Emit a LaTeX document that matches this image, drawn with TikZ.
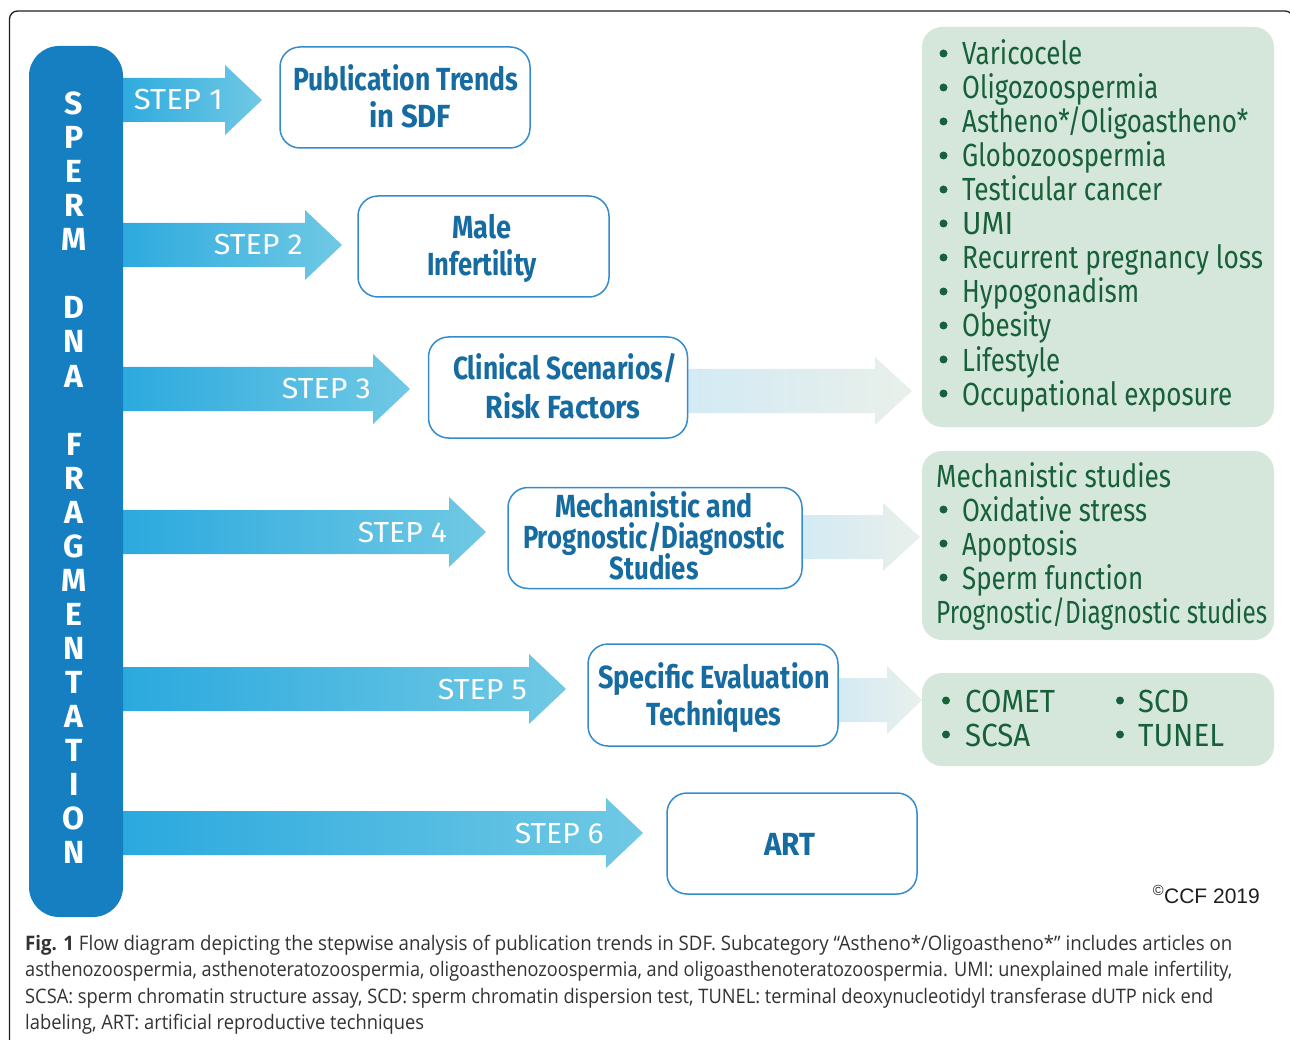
\documentclass[tikz,border=0pt]{standalone}
\usepackage{fontspec}
\usepackage{graphicx}
\setmainfont{Fira Sans}
\newfontfamily\capfont{Open Sans}
\newfontfamily\ccffont{Liberation Sans}
\usetikzlibrary{calc}

\definecolor{barblue}{RGB}{21,127,194}
\definecolor{arrowL}{RGB}{41,168,222}
\definecolor{arrowR}{RGB}{112,201,228}
\definecolor{fadeL}{RGB}{211,234,244}
\definecolor{fadeR}{RGB}{233,240,234}
\definecolor{boxline}{RGB}{52,140,205}
\definecolor{titleblue}{RGB}{22,108,160}
\definecolor{greenfill}{RGB}{212,231,218}
\definecolor{greentxt}{RGB}{23,96,58}
\definecolor{capgray}{RGB}{50,50,50}
\definecolor{framecol}{RGB}{30,30,30}

% horizontal fit of a text line to a given width (in pt)
\newcommand\fw[2]{\resizebox{#1pt}{\height}{#2}}

\tikzset{
  titlebox/.style={draw=boxline, line width=1.5pt, fill=white, rounded corners=20pt, inner sep=0pt},
  greenbox/.style={fill=greenfill, rounded corners=20pt, inner sep=0pt},
  titletext/.style={inner sep=0pt, text=titleblue, font=\bfseries\fontsize{32}{36}\selectfont},
  greentext/.style={inner sep=0pt, text=greentxt, font=\fontsize{32}{36}\selectfont},
  steptext/.style={inner sep=0pt, text=white, font=\fontsize{29}{32}\selectfont},
  barletter/.style={inner sep=0pt, text=white, font=\bfseries\fontsize{32}{34}\selectfont},
  captext/.style={inner sep=0pt, text=capgray, font=\capfont\fontsize{20}{24}\selectfont},
  bulletdot/.style={fill=greentxt},
}

% step arrow: #1 name, #2 centre y, #3 x where the head starts, #4 step number
\newcommand\steparrow[4]{%
  \shade[left color=arrowL, right color=arrowR]
    (110,#2-22) -- (#3,#2-22) -- (#3,#2-35) -- (#3+37,#2)
    -- (#3,#2+35) -- (#3,#2+22) -- (110,#2+22) -- cycle;
  \node[steptext, anchor=base east] (#1) at (#3-2,#2+10) {\fw{89}{STEP #4}};
}
% pale arrow towards a green panel: #1 start x, #2 head x, #3 tip x, #4 centre y
\newcommand\fadearrow[4]{%
  \shade[left color=fadeL, right color=fadeR]
    (#1,#4-22) -- (#2,#4-22) -- (#2,#4-34) -- (#3,#4)
    -- (#2,#4+34) -- (#2,#4+22) -- (#1,#4+22) -- cycle;
}

\begin{document}
\begin{tikzpicture}[x=1pt,y=-1pt]
\useasboundingbox (0,0) rectangle (1290,1040);
\clip (0,0) rectangle (1290,1040);

% outer frame
\draw[framecol, line width=1.3pt, rounded corners=8pt] (9.5,11) rectangle (1293,1075);

% step arrows
\steparrow{s1}{100}{225}{1}
\steparrow{s2}{245}{305}{2}
\steparrow{s3}{389}{373}{3}
\steparrow{s4}{532}{449}{4}
\steparrow{s5}{689}{529}{5}
\steparrow{s6}{833}{606}{6}

% vertical title bar
\node[fill=barblue, rounded corners=30pt, minimum width=94pt, minimum height=871pt, inner sep=0pt] (bar) at (76,481.5) {};
\foreach \l/\k in {S/0,P/1,E/2,R/3,M/4,D/6,N/7,A/8,F/10,R/11,A/12,G/13,M/14,E/15,N/16,T/17,A/18,T/19,I/20,O/21,N/22}
  \node[barletter, anchor=base] (L\k) at (74,{115+34*\k}) {\l};

% pale arrows
\fadearrow{686}{875}{912}{391}
\fadearrow{801}{883}{920}{537}
\fadearrow{837}{887}{922}{700}

% step boxes
\node[titlebox, minimum width=250pt, minimum height=101pt] (b1) at (405,97.5) {};
\node[titlebox, minimum width=251pt, minimum height=101pt] (b2) at (483.5,246.5) {};
\node[titlebox, minimum width=259pt, minimum height=101pt] (b3) at (558,387.5) {};
\node[titlebox, minimum width=294pt, minimum height=101pt] (b4) at (655,538) {};
\node[titlebox, minimum width=250pt, minimum height=102pt] (b5) at (713,695) {};
\node[titlebox, minimum width=250pt, minimum height=101pt] (b6) at (792,843.5) {};

\node[titletext, anchor=base] (b1a) at (406,91) {\fw{225}{Publication Trends}};
\node[titletext, anchor=base] (b1b) at (410,128) {\fw{82}{in SDF}};
\node[titletext, anchor=base] (b2a) at (482,239) {\fw{59}{Male}};
\node[titletext, anchor=base] (b2b) at (482,276) {\fw{110}{Infertility}};
\node[titletext, anchor=base] (b3a) at (565,380) {\fw{224}{Clinical Scenarios/}};
\node[titletext, anchor=base] (b3b) at (563,418) {\fw{155}{Risk Factors}};
\node[titletext, anchor=base] (b4a) at (654,517) {\fw{198}{Mechanistic and}};
\node[titletext, anchor=base] (b4b) at (654,548) {\fw{262}{Prognostic/Diagnostic}};
\node[titletext, anchor=base] (b4c) at (654,579) {\fw{89}{Studies}};
\node[titletext, anchor=base] (b5a) at (714,688) {\fw{232}{Specific Evaluation}};
\node[titletext, anchor=base] (b5b) at (714,725) {\fw{135}{Techniques}};
\node[titletext, anchor=base] (b6a) at (790,855) {\fw{51}{ART}};

% green panels
\node[greenbox, minimum width=352pt, minimum height=400pt] (g1) at (1098,227) {};
\node[greenbox, minimum width=352pt, minimum height=189pt] (g2) at (1098,545.5) {};
\node[greenbox, minimum width=352pt, minimum height=93pt] (g3) at (1098,719.5) {};

% risk factor list
\foreach \t/\w [count=\i from 0] in {Varicocele/120,Oligozoospermia/196,{Astheno*/Oligoastheno*}/286,Globozoospermia/204,Testicular cancer/200,UMI/51,Recurrent pregnancy loss/301,Hypogonadism/177,Obesity/89,Lifestyle/98,Occupational exposure/270}{
  \fill[bulletdot] (943.5,{53.5+34*\i}) circle (4);
  \node[greentext, anchor=base west] (r\i) at (962,{65+34*\i}) {\fw{\w}{\t}};
}

% studies panel
\node[greentext, anchor=base west] (m0) at (936,487) {\fw{235}{Mechanistic studies}};
\foreach \t/\w [count=\i from 1] in {Oxidative stress/185,Apoptosis/115,Sperm function/181}{
  \fill[bulletdot] (943.5,{487-11.5+34*\i}) circle (4);
  \node[greentext, anchor=base west] (m\i) at (962,{487+34*\i}) {\fw{\w}{\t}};
}
\node[greentext, anchor=base west] (m4) at (936,623) {\fw{331}{Prognostic/Diagnostic studies}};

% techniques panel
\fill[bulletdot] (946,700.5) circle (4);
\fill[bulletdot] (946,734.5) circle (4);
\fill[bulletdot] (1120,700.5) circle (4);
\fill[bulletdot] (1120,734.5) circle (4);
\node[greentext, anchor=base west] (t1) at (965,712) {\fw{90}{COMET}};
\node[greentext, anchor=base west] (t2) at (965,746) {\fw{65}{SCSA}};
\node[greentext, anchor=base west] (t3) at (1138,712) {\fw{51}{SCD}};
\node[greentext, anchor=base west] (t4) at (1138,746) {\fw{86}{TUNEL}};

% copyright
\node[inner sep=0pt, anchor=base east, text=framecol, font=\ccffont\fontsize{21}{24}\selectfont] (ccf) at (1260,903) {\textsuperscript{\copyright}CCF 2019};

% caption
\node[captext, anchor=base west] (c1) at (25,950) {\fw{1207}{\textbf{Fig. 1} Flow diagram depicting the stepwise analysis of publication trends in SDF. Subcategory “Astheno*/Oligoastheno*” includes articles on}};
\node[captext, anchor=base west] (c2) at (25,976.5) {\fw{1207}{asthenozoospermia, asthenoteratozoospermia, oligoasthenozoospermia, and oligoasthenoteratozoospermia. UMI: unexplained male infertility,}};
\node[captext, anchor=base west] (c3) at (25,1003) {\fw{1188}{SCSA: sperm chromatin structure assay, SCD: sperm chromatin dispersion test, TUNEL: terminal deoxynucleotidyl transferase dUTP nick end}};
\node[captext, anchor=base west] (c4) at (25,1029.5) {\fw{399}{labeling, ART: artificial reproductive techniques}};
\end{tikzpicture}
\end{document}
